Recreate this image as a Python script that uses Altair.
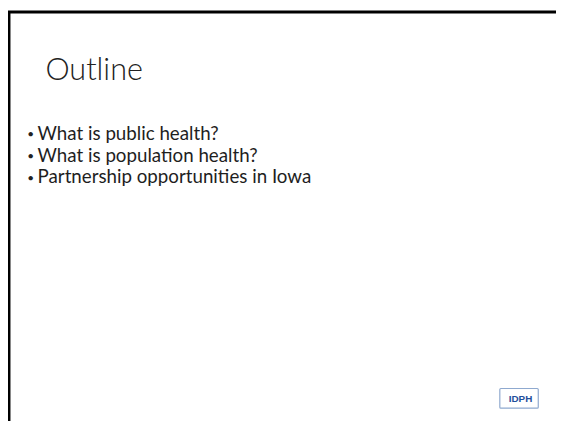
import altair as alt
import pandas as pd

# ---- slide content ----
title = ["Outline"]
bullets = [
    "What is public health?",
    "What is population health?",
    "Partnership opportunities in Iowa",
]
logo_text = ["IDPH"]

W, H = 556, 416  # page is 564x424 with an 8px margin

one = pd.DataFrame({"k": [0]})

top_rule = alt.Chart(one).mark_rule(color="#000000", strokeWidth=3).encode(
    x=alt.value(0), x2=alt.value(W), y=alt.value(1)
)
left_rule = alt.Chart(one).mark_rule(color="#000000", strokeWidth=3).encode(
    x=alt.value(1), y=alt.value(0), y2=alt.value(H)
)

title_layer = alt.Chart(pd.DataFrame({"t": title})).mark_text(
    align="left", baseline="middle", font="Lato", fontSize=31,
    fontWeight=300, color="#222222"
).encode(x=alt.value(38), y=alt.value(61), text="t:N")

bdf = pd.DataFrame({"idx": list(range(len(bullets))), "t": bullets,
                    "b": ["•"] * len(bullets)})
yscale = alt.Scale(domain=[0, len(bullets) - 1], range=[125, 169])

bullet_dots = alt.Chart(bdf).mark_text(
    align="center", baseline="middle", font="Lato", fontSize=12, color="#222222"
).encode(x=alt.value(23), y=alt.Y("idx:Q", scale=yscale, axis=None), text="b:N")

bullet_text = alt.Chart(bdf).mark_text(
    align="left", baseline="middle", font="Lato", fontSize=19, color="#1e1e1e"
).encode(x=alt.value(30), y=alt.Y("idx:Q", scale=yscale, axis=None), text="t:N")

logo_box = alt.Chart(one).mark_rect(
    fill="#ffffff", stroke="#8fa9cf", strokeWidth=1.2, cornerRadius=1
).encode(x=alt.value(499), x2=alt.value(538), y=alt.value(383), y2=alt.value(403))

logo_label = alt.Chart(pd.DataFrame({"t": logo_text})).mark_text(
    align="center", baseline="middle", font="Liberation Sans", fontSize=10,
    fontWeight="bold", color="#1f4f9c"
).encode(x=alt.value(520), y=alt.value(394), text="t:N")

chart = alt.layer(
    top_rule, left_rule, title_layer, bullet_dots, bullet_text, logo_box, logo_label
).properties(
    width=W, height=H, padding=0, autosize=alt.AutoSizeParams(type="none"),
    background="#ffffff"
).configure_view(stroke=None)

chart.save("out.html", embed_options={"renderer": "svg", "actions": False})
